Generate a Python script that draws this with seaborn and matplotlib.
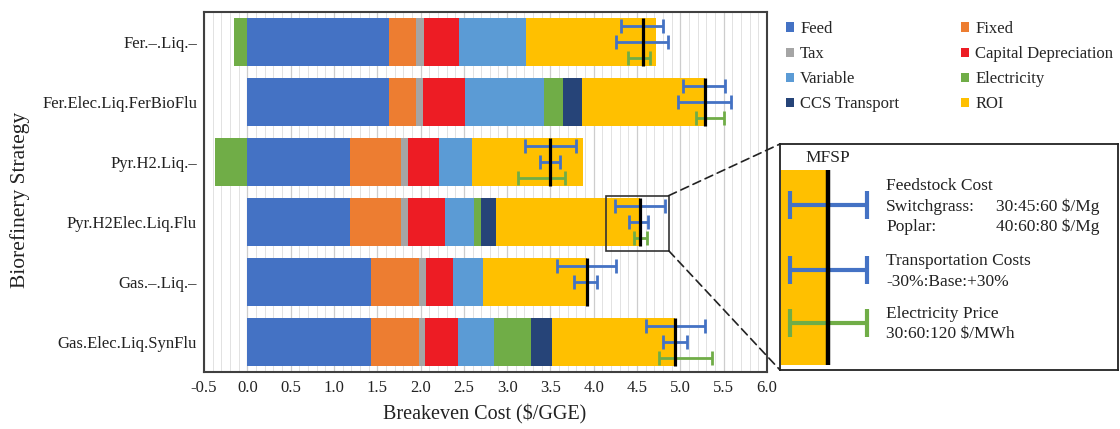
import numpy as np
import pandas as pd
import matplotlib
matplotlib.use("Agg")
import matplotlib.pyplot as plt
import seaborn as sns
from matplotlib.patches import Patch, Rectangle, ConnectionPatch
from matplotlib.ticker import MultipleLocator, FixedLocator

# ---------------- data ----------------
strategies = ["Fer.–.Liq.–", "Fer.Elec.Liq.FerBioFlu", "Pyr.H2.Liq.–",
              "Pyr.H2Elec.Liq.Flu", "Gas.–.Liq.–", "Gas.Elec.Liq.SynFlu"]
components = ["Feed", "Fixed", "Tax", "Capital Depreciation", "Variable",
              "Electricity", "CCS Transport", "ROI"]

feed        = [1.64, 1.64, 1.19, 1.19, 1.43, 1.43]
fixed       = [0.31, 0.31, 0.58, 0.58, 0.55, 0.55]
tax         = [0.09, 0.08, 0.09, 0.09, 0.08, 0.07]
capital     = [0.40, 0.48, 0.35, 0.42, 0.32, 0.38]
variable    = [0.78, 0.91, 0.38, 0.34, 0.34, 0.42]
electricity = [-0.15, 0.22, -0.37, 0.08, 0.00, 0.42]
ccs         = [0.00, 0.22, 0.00, 0.17, 0.00, 0.25]
roi         = [1.50, 1.42, 1.28, 1.66, 1.20, 1.42]

# sensitivity ranges (low / high MFSP, $/GGE)
feedstock_low  = [4.32, 5.03, 3.21, 4.24, 3.57, 4.60]
feedstock_high = [4.80, 5.52, 3.79, 4.82, 4.26, 5.28]
transport_low  = [4.26, 4.97, 3.38, 4.41, 3.77, 4.80]
transport_high = [4.86, 5.59, 3.61, 4.63, 4.04, 5.08]
elecprice_low  = [4.40, 5.18, 3.12, 4.46, np.nan, 4.75]
elecprice_high = [4.65, 5.50, 3.67, 4.61, np.nan, 5.37]

xticks = [-0.5, 0.0, 0.5, 1.0, 1.5, 2.0, 2.5, 3.0, 3.5, 4.0, 4.5, 5.0, 5.5, 6.0]

inset_texts = [("Feedstock Cost", None), ("Switchgrass:", "30:45:60 $/Mg"),
               ("Poplar:", "40:60:80 $/Mg"), ("Transportation Costs", None),
               ("-30%:Base:+30%", None), ("Electricity Price", None),
               ("30:60:120 $/MWh", None)]

colors = {
    "Feed": "#4472C4", "Fixed": "#ED7D31", "Tax": "#A5A5A5",
    "Capital Depreciation": "#ED1C24", "Variable": "#5B9BD5",
    "Electricity": "#70AD47", "CCS Transport": "#264478", "ROI": "#FFC000",
}
blue_err = "#4472C4"
green_err = "#70AD47"

# ---------------- style ----------------
sns.set_theme(style="white")
plt.rcParams['font.family'] = ['Liberation Serif', 'DejaVu Serif']
plt.rcParams['axes.unicode_minus'] = False

df = pd.DataFrame({
    "Feed": feed, "Fixed": fixed, "Tax": tax, "Capital Depreciation": capital,
    "Variable": variable, "Electricity": electricity, "CCS Transport": ccs,
    "ROI": roi}, index=strategies)

pos = df.clip(lower=0)
neg = df.clip(upper=0)
cum = pos.cumsum(axis=1)
mfsp = df.sum(axis=1).values

fig = plt.figure(figsize=(11.2, 4.29), dpi=100)
ax = fig.add_axes([204/1120, 1-372/429, 563/1120, 360/429])

BW = 0.8
for comp in reversed(components):
    d = pd.DataFrame({"strategy": strategies, "value": cum[comp].values})
    sns.barplot(data=d, x="value", y="strategy", order=strategies, orient="y",
                color=colors[comp], saturation=1, width=BW, errorbar=None,
                linewidth=0, edgecolor="none", ax=ax, zorder=2)
dneg = pd.DataFrame({"strategy": strategies, "value": neg["Electricity"].values})
sns.barplot(data=dneg, x="value", y="strategy", order=strategies, orient="y",
            color=colors["Electricity"], saturation=1, width=BW, errorbar=None,
            linewidth=0, edgecolor="none", ax=ax, zorder=2)

idx = np.arange(len(strategies))
ax.vlines(mfsp, idx - BW/2, idx + BW/2, color="black", lw=2.3, zorder=6)

def draw_err(lo, hi, off, col):
    lo = np.asarray(lo, float); hi = np.asarray(hi, float)
    m = ~np.isnan(lo)
    ax.errorbar(mfsp[m], idx[m] + off, xerr=[mfsp[m] - lo[m], hi[m] - mfsp[m]],
                fmt="none", ecolor=col, elinewidth=2.0, capsize=5, capthick=2.0,
                zorder=5)

draw_err(feedstock_low, feedstock_high, -0.26, blue_err)
draw_err(transport_low, transport_high, 0.0, blue_err)
draw_err(elecprice_low, elecprice_high, 0.26, green_err)

ax.set_xlim(-0.5, 6.0)
ax.set_ylim(len(strategies) - 0.5, -0.5)
ax.xaxis.set_major_locator(FixedLocator(xticks))
ax.set_xticklabels([f"{t:.1f}" for t in xticks])
ax.xaxis.set_minor_locator(MultipleLocator(0.1))
ax.set_axisbelow(True)
ax.grid(which="minor", axis="x", color="#E2E2E2", lw=0.7, zorder=0)
ax.grid(which="major", axis="x", color="#CDCDCD", lw=0.9, zorder=0)
ax.grid(which="major", axis="y", visible=False)
ax.tick_params(axis="both", which="both", length=0, labelsize=12, colors="#222222")
ax.tick_params(axis="x", pad=6)
ax.tick_params(axis="y", pad=5)
ax.set_xlabel(""); ax.set_ylabel("")
for s in ax.spines.values():
    s.set_color("#404040"); s.set_linewidth(1.5)

fig.text(485/1120, 1-414/429, "Breakeven Cost ($/GGE)", ha="center", va="center",
         fontsize=14.5, color="#222222")
fig.text(20/1120, 1-200/429, "Biorefinery Strategy", ha="center", va="center",
         rotation=90, fontsize=15.5, color="#222222")

# zoom rectangle
rx0, rx1 = 4.146, 4.866
ry0, ry1 = 2.56, 3.48
ax.add_patch(Rectangle((rx0, ry0), rx1 - rx0, ry1 - ry0, fill=False,
                       edgecolor="#333333", lw=1.2, zorder=7))

# legend
leg_order = ["Feed", "Tax", "Variable", "CCS Transport",
             "Fixed", "Capital Depreciation", "Electricity", "ROI"]
handles = [Patch(facecolor=colors[c], edgecolor="none", label=c) for c in leg_order]
fig.legend(handles=handles, loc="upper left", bbox_to_anchor=(786/1120, 1-21/429),
           ncol=2, frameon=False, fontsize=12, handlelength=0.5, handleheight=0.5,
           handletextpad=0.35, labelspacing=0.55, columnspacing=3.7,
           borderpad=0, borderaxespad=0)

# inset explanatory panel
axi = fig.add_axes([780/1120, 1-370/429, 338/1120, 226/429])
axi.set_xlim(0, 338); axi.set_ylim(226, 0)
axi.set_xticks([]); axi.set_yticks([])
axi.set_facecolor("white")
for s in axi.spines.values():
    s.set_color("#222222"); s.set_linewidth(1.3)
axi.add_patch(Rectangle((1, 26), 46, 195, facecolor=colors["ROI"], edgecolor="none"))
axi.errorbar([48, 48], [61, 126], xerr=[[38, 38], [39, 39]],
             fmt="none", ecolor=blue_err, elinewidth=3, capsize=10, capthick=3, zorder=3)
axi.errorbar([48], [179], xerr=[[38], [39]], fmt="none", ecolor=green_err,
             elinewidth=3, capsize=10, capthick=3, zorder=4)
axi.vlines(48, 26, 221, color="black", lw=3.2, zorder=5)
axi.text(48, 14, "MFSP", ha="center", va="center", fontsize=12.5, color="#222222")
ys = [42, 63, 83, 117, 138, 170, 190]
for (t, v), y in zip(inset_texts, ys):
    axi.text(106, y, t, ha="left", va="center", fontsize=12.5, color="#222222")
    if v:
        axi.text(216, y, v, ha="left", va="center", fontsize=12.5, color="#222222")

# dashed connectors
for ya, yb in [(ry0, 0), (ry1, 226)]:
    con = ConnectionPatch(xyA=(rx1, ya), coordsA=ax.transData,
                          xyB=(0, yb), coordsB=axi.transData,
                          linestyle=(0, (5, 3)), color="#222222", lw=1.2)
    fig.add_artist(con)

fig.savefig("out.png", dpi=100)
